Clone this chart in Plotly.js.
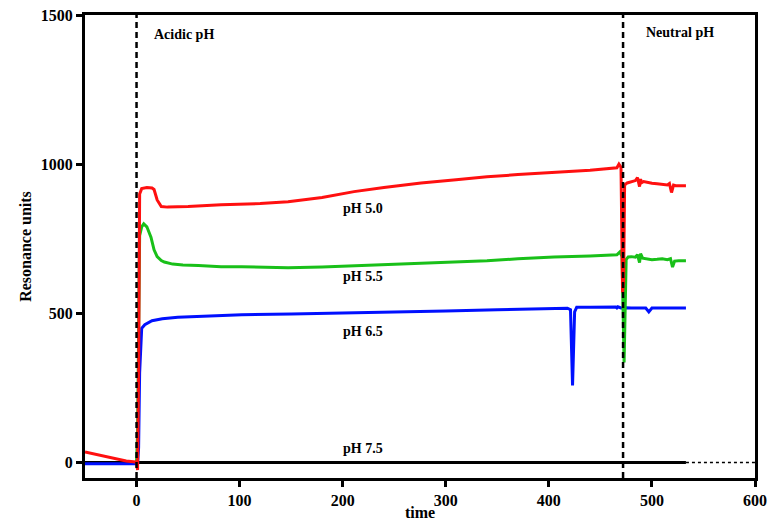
<!DOCTYPE html>
<html>
<head>
<meta charset="utf-8">
<script src="https://cdn.plot.ly/plotly-3.0.1.min.js"></script>
<style>
html,body{margin:0;padding:0;background:#fff;}
#chart{width:770px;height:529px;}
</style>
</head>
<body>
<div id="chart"></div>
<script>
// pH 5.0 (red)
const timeRed = [-50, -40, -30, -20, -10, -1, 0, 1, 2, 3, 5, 10, 15, 17, 20, 24, 30, 50, 82, 120, 147, 180, 211, 240, 276, 310, 340, 370, 405, 440, 466, 468, 470, 471.5, 472.5, 473.5, 476, 479, 484, 486, 488, 489, 490, 492, 496, 500, 505, 510, 515, 517, 519, 521, 523, 527, 533];
const ruRed   = [35, 27, 20, 13, 5, 2, 0, -25, 300, 900, 918, 922, 920, 915, 880, 858, 856, 858, 864, 868, 874, 888, 908, 922, 937, 948, 958, 965, 972, 980, 988, 1000, 990, 570, 600, 930, 937, 940, 945, 955, 925, 950, 938, 942, 938, 936, 934, 932, 930, 935, 905, 930, 928, 928, 928];

// pH 5.5 (green)
const timeGreen = [-1, 0, 1, 2, 3, 5, 7, 10, 14, 17, 20, 24, 27, 35, 45, 60, 82, 102, 147, 180, 211, 240, 276, 310, 340, 370, 405, 440, 466, 469, 471, 473, 475, 477, 480, 484, 486, 488, 489, 491, 495, 500, 505, 510, 515, 518, 520, 522, 526, 533];
const ruGreen   = [0, 0, 100, 500, 760, 790, 800, 790, 755, 713, 690, 677, 672, 665, 662, 660, 656, 656, 653, 655, 659, 663, 669, 672, 676, 683, 689, 692, 696, 706, 690, 335, 680, 689, 690, 688, 697, 670, 700, 685, 682, 680, 681, 683, 680, 683, 655, 675, 676, 676];

// pH 6.5 (blue)
const timeBlue = [-50, -10, -1, 0, 1, 2, 3, 5, 8, 15, 25, 40, 60, 102, 150, 200, 250, 300, 350, 400, 418, 421, 423, 425, 427, 440, 460, 465, 466, 467, 470, 473, 475, 480, 490, 494, 497, 500, 505, 520, 533];
const ruBlue   = [-4, -4, -4, -4, -4, 50, 300, 450, 462, 475, 482, 487, 490, 495, 498, 501, 503, 508, 512, 516, 517, 512, 258, 505, 520, 520, 519, 521, 518, 522, 518, 520, 519, 518, 518, 518, 505, 518, 518, 518, 518];

// pH 7.5 (black) and its dotted continuation
const timeBlack = [-50, 533];
const ruBlack   = [0, 0];
const timeBlackDot = [533, 600];
const ruBlackDot   = [0, 0];

// injection / buffer switch times
const eventTimes = [0, 472];

// tick labels
const xTicks = [0, 100, 200, 300, 400, 500, 600];
const yTicks = [0, 500, 1000, 1500];

// annotations
const labels = [
  {text: 'Acidic pH', x: 46, y: 1435},
  {text: 'Neutral pH', x: 527, y: 1440},
  {text: 'pH 5.0', x: 220, y: 852},
  {text: 'pH 5.5', x: 220, y: 622},
  {text: 'pH 6.5', x: 220, y: 438},
  {text: 'pH 7.5', x: 220, y: 48}
];

const FONT = 'Liberation Serif, Times New Roman, serif';

const traces = [
  {x: timeBlack, y: ruBlack, mode: 'lines', line: {color: '#000000', width: 3}, name: 'pH 7.5'},
  {x: timeBlackDot, y: ruBlackDot, mode: 'lines', line: {color: '#000000', width: 1.5, dash: 'dot'}, name: 'pH 7.5 ext'},
  {x: timeBlue, y: ruBlue, mode: 'lines', line: {color: '#0010ff', width: 3}, name: 'pH 6.5'},
  {x: timeGreen, y: ruGreen, mode: 'lines', line: {color: '#19c019', width: 3}, name: 'pH 5.5'},
  {x: timeRed, y: ruRed, mode: 'lines', line: {color: '#ff1010', width: 3}, name: 'pH 5.0'}
];

const shapes = eventTimes.map(t => ({
  type: 'line', xref: 'x', yref: 'paper', x0: t, x1: t, y0: 0, y1: 1,
  line: {color: '#000000', width: 2.5, dash: '6px,4px'}, layer: 'above'
}));

const annotations = labels.map(l => ({
  text: '<b>' + l.text + '</b>', x: l.x, y: l.y, xref: 'x', yref: 'y', showarrow: false,
  xanchor: 'center', yanchor: 'middle',
  font: {family: FONT, size: 14, color: '#000'}
}));
annotations.push({
  text: '<b>time</b>', xref: 'paper', yref: 'paper', x: 0.5, y: -0.075,
  xanchor: 'center', yanchor: 'middle', showarrow: false,
  font: {family: FONT, size: 16, color: '#000'}
});

const layout = {
  width: 770, height: 529,
  margin: {l: 85, r: 15, t: 15, b: 51},
  paper_bgcolor: '#fff', plot_bgcolor: '#fff',
  showlegend: false,
  xaxis: {
    range: [-50, 600], tickvals: xTicks, ticktext: xTicks.map(v => '<b>' + v + '</b>'),
    showline: true, mirror: true, linecolor: '#000', linewidth: 3,
    ticks: 'outside', ticklen: 6, tickwidth: 3, tickcolor: '#000',
    showgrid: false, zeroline: false,
    tickfont: {family: FONT, size: 16, color: '#000'}
  },
  yaxis: {
    range: [-52, 1500], tickvals: yTicks, ticktext: yTicks.map(v => '<b>' + v + '</b>'),
    showline: true, mirror: true, linecolor: '#000', linewidth: 3,
    ticks: 'outside', ticklen: 6, tickwidth: 3, tickcolor: '#000',
    showgrid: false, zeroline: false,
    tickfont: {family: FONT, size: 16, color: '#000'},
    title: {text: '<b>Resonance units</b>', font: {family: FONT, size: 16, color: '#000'}, standoff: 6}
  },
  shapes: shapes,
  annotations: annotations
};

Plotly.newPlot('chart', traces, layout, {staticPlot: true, displayModeBar: false});
</script>
</body>
</html>
